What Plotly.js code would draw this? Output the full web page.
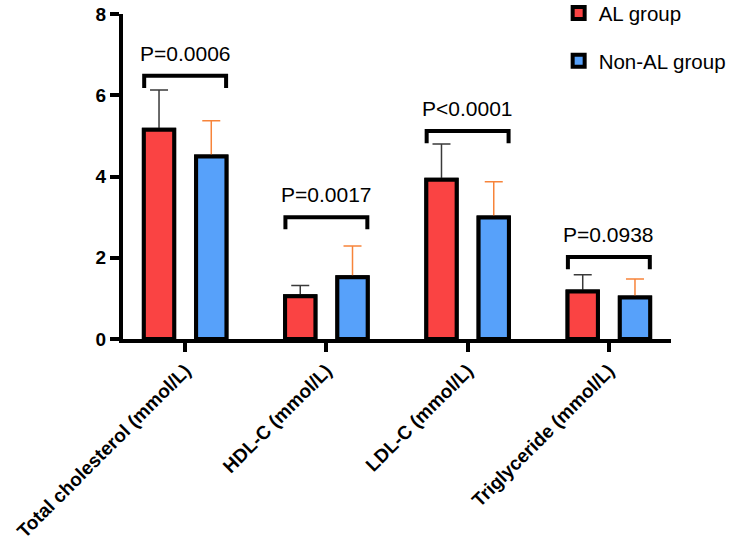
<!DOCTYPE html>
<html>
<head>
<meta charset="utf-8">
<script src="https://cdn.plot.ly/plotly-3.0.1.min.js"></script>
<style>html,body{margin:0;padding:0;background:#fff;}#chart{width:736px;height:542px;}</style>
</head>
<body>
<div id="chart"></div>
<script>
// ---- data ----
var categories = ["Total cholesterol (mmol/L)", "HDL-C (mmol/L)", "LDL-C (mmol/L)", "Triglyceride (mmol/L)"];
var seriesNames = ["AL group", "Non-AL group"];
var alMean = [5.15, 1.05, 3.92, 1.17];
var alSD = [0.98, 0.27, 0.88, 0.41];
var nonAlMean = [4.49, 1.52, 2.99, 1.02];
var nonAlSD = [0.88, 0.77, 0.88, 0.46];
var pLabels = ["P=0.0006", "P=0.0017", "P<0.0001", "P=0.0938"];
var bracketLevel = [6.48, 3.0, 5.12, 2.02];
var yTicks = [0, 2, 4, 6, 8];

// ---- styles ----
var red = "#fa4343", blue = "#57a1fa";
var fontFam = "Arial, 'Liberation Sans', Helvetica, sans-serif";

function zeros(a){ return a.map(function(){ return 0; }); }

var barStyle = function(c){ return {color: c, line: {color: "#000", width: 4}}; };

var traces = [
  {
    type: "bar", name: seriesNames[0], x: categories, y: alMean,
    legendgroup: "a", marker: barStyle(red),
    error_y: {type: "data", symmetric: false, array: alSD, arrayminus: zeros(alSD),
              color: "#3a3a3a", thickness: 1.5, width: 9}
  },
  {
    type: "bar", name: seriesNames[1], x: categories, y: nonAlMean,
    legendgroup: "b", marker: barStyle(blue),
    error_y: {type: "data", symmetric: false, array: nonAlSD, arrayminus: zeros(nonAlSD),
              color: "#f7843a", thickness: 1.5, width: 9}
  },
  // same bars on an overlaid axis, so the outlines sit above the error-bar bases
  {type: "bar", name: seriesNames[0], x: categories, y: alMean, xaxis: "x2",
   showlegend: false, marker: barStyle(red)},
  {type: "bar", name: seriesNames[1], x: categories, y: nonAlMean, xaxis: "x2",
   showlegend: false, marker: barStyle(blue)}
];

var halfSpan = 0.29, footDrop = 0.3;
var shapes = [], annotations = [];
for (var i = 0; i < categories.length; i++) {
  var y = bracketLevel[i];
  shapes.push({
    type: "path", xref: "x", yref: "y",
    path: "M " + (i - halfSpan) + "," + (y - footDrop) + " L " + (i - halfSpan) + "," + y +
          " L " + (i + halfSpan) + "," + y + " L " + (i + halfSpan) + "," + (y - footDrop),
    line: {color: "#000", width: 4}
  });
  annotations.push({
    xref: "x", yref: "y", x: i, y: y, text: pLabels[i], showarrow: false,
    yanchor: "bottom", yshift: 9,
    font: {family: fontFam, size: 21, color: "#000"}
  });
}

var layout = {
  width: 736, height: 542,
  margin: {l: 123, r: 65, t: 14, b: 203, autoexpand: false},
  paper_bgcolor: "#fff", plot_bgcolor: "#fff",
  barmode: "group", bargap: 0.26, bargroupgap: 0.42,
  showlegend: true,
  legend: {x: 0.795, y: 1.064, xanchor: "left", yanchor: "top",
           traceorder: "grouped", tracegroupgap: 18,
           font: {family: fontFam, size: 20.5, color: "#000"}, bgcolor: "rgba(0,0,0,0)"},
  xaxis: {
    type: "category", range: [-0.44, 3.44],
    showline: true, linewidth: 4, linecolor: "#000",
    ticks: "outside", ticklen: 9, tickwidth: 4, tickcolor: "#000",
    tickangle: -45, showgrid: false, zeroline: false,
    tickfont: {family: fontFam, size: 19, color: "#000", weight: "bold"}
  },
  xaxis2: {
    type: "category", range: [-0.44, 3.44], overlaying: "x", matches: "x",
    visible: false, showgrid: false, zeroline: false
  },
  yaxis: {
    range: [0, 8], tickvals: yTicks, ticktext: yTicks.map(String),
    showline: true, linewidth: 4, linecolor: "#000",
    ticks: "outside", ticklen: 9, tickwidth: 4, tickcolor: "#000",
    showgrid: false, zeroline: false,
    tickfont: {family: fontFam, size: 19, color: "#000", weight: "bold"}
  },
  shapes: shapes,
  annotations: annotations
};

Plotly.newPlot("chart", traces, layout, {displayModeBar: false, staticPlot: true});
</script>
</body>
</html>
